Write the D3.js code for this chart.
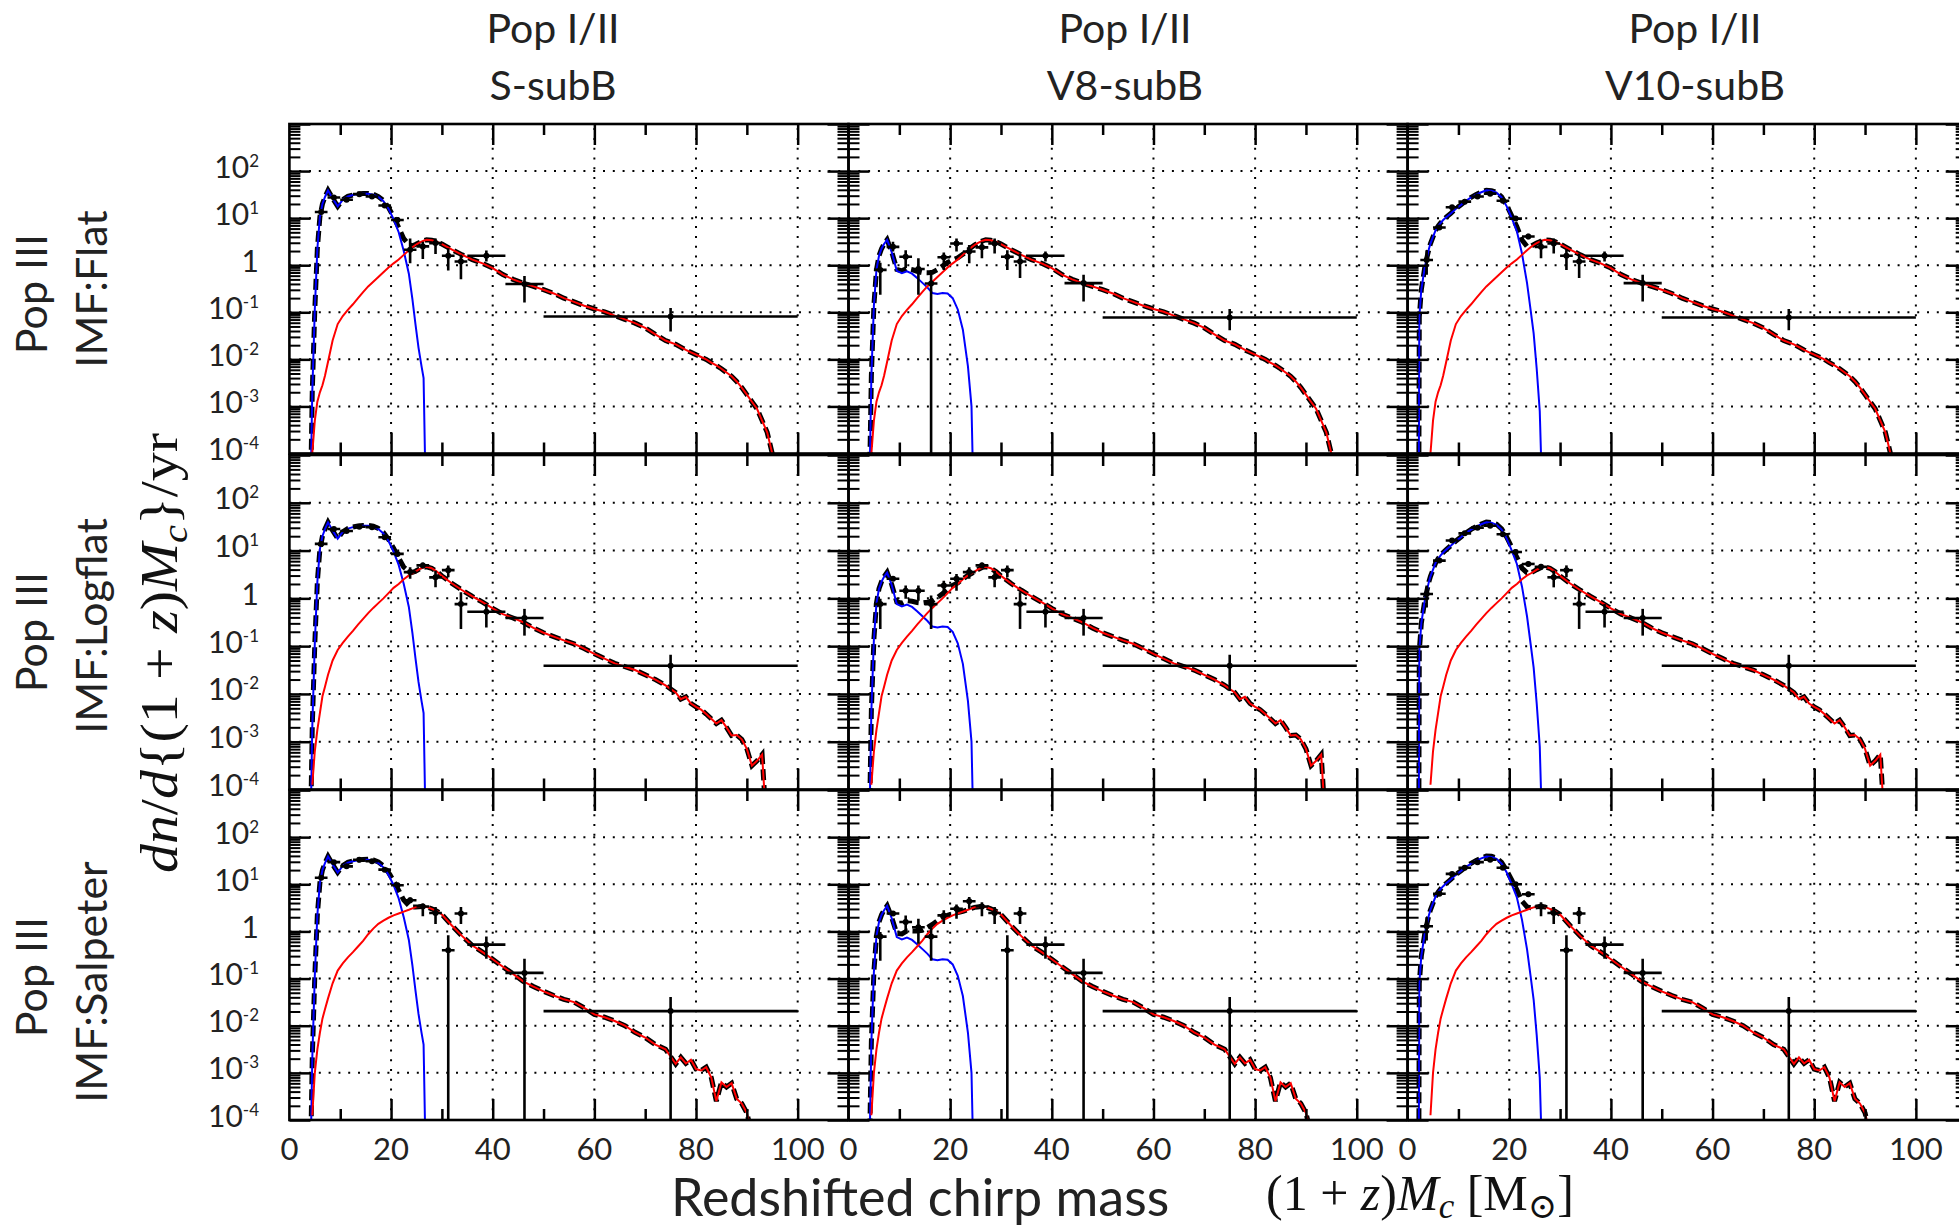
<!DOCTYPE html>
<html>
<head>
<meta charset="utf-8">
<script src="https://cdn.jsdelivr.net/npm/d3@7/dist/d3.min.js"></script>
<style>
  body{margin:0;background:#fff}
  svg{display:block}
</style>
</head>
<body>
<script>
// redshifted chirp mass grid shared by all model curves
const mc = [2.2,2.3,2.7,3.4,4.2,4.5,5,5.5,6,6.5,7,7.6,8.5,9.5,10.5,11.5,12.5,13.5,14.5,15.5,
  16.5,17.5,18.5,19.5,20.5,21.5,22.5,23.5,24.2,24.8,25.4,26,26.4,27,28,29,30,32,34,36,38,
  40,42,44,46,48,50,52,54,56,58,60,62,64,66,68,70,72,74,76,77,78,79,80,81,82,83,84,85,86,
  87,88,89,90,91,92,93,94,95]

// log10 rates, Pop I/II models (one per column)
const blueS = [null,null,null,null,-4.6, -2.7,-0.94,0.35,1.03,1.3, 1.45,1.59,1.42,1.25,1.39,
  1.46,1.49,1.51,1.52,1.52, 1.5,1.45,1.36,1.2,0.98, 0.7,0.3,-0.18,-0.72,-1.25, -1.75,-2.15,-2.4,-6]
const blueV8 = [null,null,null,null,-4.2, -2.35,-0.85,-0.1,0.2,0.35, 0.45,0.54,0.28,-0.12,-0.17,
  -0.13,-0.18,-0.27,-0.37,-0.47, -0.59,-0.61,-0.59,-0.6,-0.7, -0.94,-1.37,-2.15,-3.0,-6]
const blueV10 = [-5,-1.1,-0.52,-0.03,0.35, 0.46,0.6,0.74,0.83,0.9, 0.96,1.02,1.1,1.2,1.28,
  1.37,1.44,1.5,1.55,1.59, 1.58,1.54,1.44,1.25,1.0, 0.72,0.25,-0.38,-0.95,-1.45, -2.2,-3.1,-4.6]

// log10 rates, Pop III models (one per row)
const redFlat = [null,null,null,null,null, -4.0,-3.3,-2.9,-2.7,-2.55, -2.35,-2.05,-1.6,-1.25,-1.08,
  -0.95,-0.83,-0.7,-0.57,-0.45, -0.35,-0.25,-0.15,-0.05,0.04, 0.12,0.22,0.32,0.38,0.43,
  0.47,0.5,0.52,0.54,0.53, 0.5,0.45,0.33,0.22,0.12, 0.04,-0.06,-0.2,-0.3,-0.38,
  -0.45,-0.52,-0.6,-0.7,-0.78, -0.86,-0.93,-0.99,-1.07,-1.15, -1.23,-1.33,-1.47,-1.6,-1.68,
  -1.74,-1.8,-1.85,-1.9,-1.95, -2.0,-2.07,-2.13,-2.2,-2.28, -2.36,-2.47,-2.6,-2.75,-2.9,
  -3.05,-3.3,-3.55,-4.0]
const redLogflat = [null,null,null,null,null, -3.9,-3.2,-2.75,-2.4,-2.05, -1.85,-1.6,-1.3,-1.08,-0.93,
  -0.8,-0.68,-0.55,-0.43,-0.31, -0.2,-0.1,0.0,0.11,0.22, 0.3,0.4,0.48,0.52,0.56,
  0.6,0.63,0.65,0.66,0.63, 0.56,0.47,0.31,0.17,0.04, -0.08,-0.21,-0.33,-0.41,-0.5,
  -0.62,-0.72,-0.8,-0.88,-0.95, -1.05,-1.16,-1.26,-1.36,-1.43, -1.5,-1.6,-1.7,-1.82,-1.97,
  -2.11,-2.06,-2.2,-2.27,-2.33, -2.42,-2.52,-2.62,-2.55,-2.7, -2.87,-2.86,-2.95,-3.15,-3.5,
  -3.4,-3.27,-5,null]
const redSalpeter = [null,null,null,null,null, -3.9,-3.0,-2.5,-2.15,-1.85, -1.65,-1.42,-1.1,-0.83,-0.68,
  -0.55,-0.44,-0.32,-0.2,-0.06, 0.06,0.16,0.23,0.29,0.34, 0.38,0.42,0.46,0.49,0.51,
  0.52,0.53,0.53,0.52,0.48, 0.43,0.36,0.12,-0.1,-0.3, -0.44,-0.59,-0.75,-0.9,-1.06,
  -1.17,-1.27,-1.36,-1.44,-1.5, -1.62,-1.76,-1.82,-1.9,-2.0, -2.14,-2.25,-2.4,-2.5,-2.81,
  -2.67,-2.8,-2.72,-2.92,-2.95, -2.88,-3.1,-3.6,-3.2,-3.3, -3.22,-3.55,-3.65,-3.85,-4.3,
  null,null,null,null]

// histogram bins of the mock detections
const binX = [3.75,6.25,8.75,11.25,13.75,16.25,18.75,21.25,23.75,26.25,28.75,31.25,33.75,38.75,46.25,75]
const binHalf = [1.25,1.25,1.25,1.25,1.25,1.25,1.25,1.25,1.25,1.25,1.25,1.25,1.25,3.75,3.75,25]

// [log10 value, log10 lower, log10 upper]; lower null = down to zero
const ptsFlatS = [null,[1.13,1.08,1.18],[1.44,1.4,1.48],[1.39,1.35,1.43],[1.51,1.48,1.54],[1.46,1.43,1.49],
  [1.27,1.23,1.31],[0.96,0.91,1.01],[0.33,0.04,0.57],[0.4,0.13,0.5],[0.47,0.24,0.57],[0.2,-0.11,0.36],
  [0.08,-0.3,0.22],[0.2,0.08,0.31],[-0.4,-0.79,-0.23],[-1.09,-1.41,-0.91]]
const ptsFlatV8 = [null,[-0.1,-0.63,0.05],[0.39,0.29,0.5],[0.18,-0.06,0.32],[-0.08,-0.63,0.15],[-0.39,null,-0.1],
  [0.17,-0.1,0.27],[0.46,0.29,0.57],[0.29,0.04,0.43],[0.38,0.15,0.5],[0.46,0.25,0.57],[0.18,-0.1,0.32],
  [0.08,-0.27,0.25],[0.2,0.08,0.29],[-0.38,-0.77,-0.2],[-1.11,-1.38,-0.93]]
const ptsFlatV10 = [[0.11,-0.2,0.32],[0.8,0.76,0.84],[1.23,1.2,1.26],[1.35,1.32,1.38],[1.46,1.43,1.49],[1.52,1.49,1.55],
  [1.37,1.34,1.4],[0.99,0.95,1.03],[0.61,0.55,0.67],[0.39,0.15,0.54],[0.46,0.25,0.57],[0.2,-0.1,0.34],
  [0.08,-0.27,0.25],[0.2,0.08,0.29],[-0.38,-0.77,-0.2],[-1.11,-1.38,-0.93]]
const ptsLogflatS = [null,[1.14,1.09,1.19],[1.45,1.41,1.49],[1.41,1.37,1.45],[1.5,1.47,1.53],[1.49,1.46,1.52],
  [1.28,1.24,1.32],[0.93,0.88,0.98],[0.55,0.41,0.65],[0.69,0.63,0.75],[0.44,0.23,0.58],[0.59,0.44,0.69],
  [-0.12,-0.64,0.13],[-0.28,-0.61,-0.12],[-0.41,-0.78,-0.22],[-1.41,-1.94,-1.18]]
const ptsLogflatV8 = [null,[-0.12,-0.64,-0.01],[0.41,0.37,0.45],[0.16,-0.01,0.27],[0.16,-0.05,0.27],[-0.12,-0.64,0.06],
  [0.27,0.06,0.37],[0.41,0.16,0.51],[0.55,0.41,0.65],[0.69,0.63,0.75],[0.44,0.23,0.58],[0.59,0.44,0.69],
  [-0.12,-0.64,0.13],[-0.28,-0.61,-0.12],[-0.41,-0.78,-0.22],[-1.41,-1.94,-1.18]]
const ptsLogflatV10 = [[0.09,-0.19,0.27],[0.79,0.75,0.83],[1.21,1.18,1.24],[1.36,1.33,1.39],[1.48,1.45,1.51],[1.52,1.49,1.55],
  [1.34,1.31,1.37],[0.97,0.93,1.01],[0.72,0.67,0.77],[0.66,0.6,0.72],[0.44,0.23,0.58],[0.59,0.44,0.69],
  [-0.12,-0.64,0.13],[-0.28,-0.61,-0.12],[-0.41,-0.78,-0.22],[-1.41,-1.94,-1.18]]
const ptsSalpeterS = [null,[1.14,1.09,1.19],[1.47,1.43,1.51],[1.38,1.34,1.42],[1.52,1.49,1.55],[1.49,1.46,1.52],
  [1.31,1.27,1.35],[0.98,0.93,1.03],[0.66,0.6,0.72],[0.53,0.32,0.59],[0.39,0.16,0.52],[-0.4,null,-0.08],
  [0.38,0.16,0.52],[-0.28,-0.58,-0.11],[-0.88,null,-0.58],[-1.69,null,-1.39]]
const ptsSalpeterV8 = [null,[-0.11,-0.62,-0.01],[0.38,0.34,0.42],[0.2,-0.01,0.34],[0.09,-0.26,0.27],[-0.11,-0.62,0.09],
  [0.34,0.16,0.45],[0.48,0.27,0.57],[0.64,0.48,0.73],[0.53,0.32,0.62],[0.39,0.16,0.52],[-0.4,null,-0.08],
  [0.38,0.16,0.52],[-0.28,-0.58,-0.11],[-0.88,null,-0.58],[-1.69,null,-1.39]]
const ptsSalpeterV10 = [[0.11,-0.19,0.3],[0.8,0.76,0.84],[1.22,1.19,1.25],[1.35,1.32,1.38],[1.47,1.44,1.5],[1.52,1.49,1.55],
  [1.35,1.32,1.38],[1.0,0.96,1.04],[0.79,0.74,0.84],[0.53,0.32,0.62],[0.39,0.16,0.52],[-0.4,null,-0.08],
  [0.38,0.16,0.52],[-0.28,-0.58,-0.11],[-0.88,null,-0.58],[-1.69,null,-1.39]]

const colTitles = [["Pop I/II","S-subB"],["Pop I/II","V8-subB"],["Pop I/II","V10-subB"]]
const rowTitles = [["Pop III","IMF:Flat"],["Pop III","IMF:Logflat"],["Pop III","IMF:Salpeter"]]
const xTickVals = [0,20,40,60,80,100]
const yTickVals = [1e2,1e1,1,1e-1,1e-2,1e-3,1e-4]
const yTickText = [["10","2"],["10","1"],["1",""],["10","-1"],["10","-2"],["10","-3"],["10","-4"]]

const W=1959, H=1231
const colLeft=[289.4,848.5,1407.6], panelW=559.1
const rowTop=[124,455,790], rowBot=[453.5,789.5,1120]
const colTitleX=[553,1125,1695], rowTitleY=[[294,289],[632,626],[977,982]]
const sans="Lato, 'Open Sans', sans-serif", serif="'Liberation Serif','DejaVu Serif',serif"

const blues=[blueS,blueV8,blueV10]
const reds=[redFlat,redLogflat,redSalpeter]
const pts=[[ptsFlatS,ptsFlatV8,ptsFlatV10],[ptsLogflatS,ptsLogflatV8,ptsLogflatV10],[ptsSalpeterS,ptsSalpeterV8,ptsSalpeterV10]]

const p10 = v => (v==null ? null : Math.pow(10,v))
const decades=[1e-4,1e-3,1e-2,1e-1,1,1e1,1e2,1e3]
const minorY=[]
for(let e=-4;e<3;e++){ for(let k=2;k<10;k++) minorY.push(k*Math.pow(10,e)) }

const svg = d3.select("body").append("svg").attr("width",W).attr("height",H)
svg.append("rect").attr("width",W).attr("height",H).attr("fill","#fff")

function drawPanel(r,c){
  const x0=colLeft[c], x1=x0+panelW, yT=rowTop[r], yB=rowBot[r]
  const x = d3.scaleLinear().domain([0,110]).range([x0,x1])
  const y = d3.scaleLog().domain([1e-4,1e3]).range([yB,yT])
  const id=`clip${r}${c}`
  svg.append("clipPath").attr("id",id).append("rect")
    .attr("x",x0).attr("y",yT).attr("width",panelW).attr("height",yB-yT)
  const g = svg.append("g")
  const inner = g.append("g").attr("clip-path",`url(#${id})`)

  // dotted grid
  inner.selectAll(".gx").data([20,40,60,80,100]).join("line").attr("class","gx")
    .attr("x1",d=>x(d)).attr("x2",d=>x(d)).attr("y1",yB).attr("y2",yT)
    .attr("stroke","#000").attr("stroke-width",2).attr("stroke-dasharray","2,7.8")
  inner.selectAll(".gy").data([1e-3,1e-2,1e-1,1,1e1,1e2]).join("line").attr("class","gy")
    .attr("y1",d=>y(d)).attr("y2",d=>y(d)).attr("x1",x0).attr("x2",x1)
    .attr("stroke","#000").attr("stroke-width",2).attr("stroke-dasharray","2,7.8")

  const line = d3.line().defined(d=>d.v!=null && d.v>0).x(d=>x(d.x)).y(d=>y(d.v))
  const blue = mc.map((m,i)=>({x:m, v:p10(blues[c][i] ?? null)}))
  const red = mc.map((m,i)=>({x:m, v:p10(reds[r][i] ?? null)}))
  const tot = mc.map((m,i)=>{
    const b=blue[i].v, rr=red[i].v
    return {x:m, v:(b==null && rr==null) ? null : (b||0)+(rr||0)}
  })
  inner.append("path").attr("d",line(tot)).attr("fill","none").attr("stroke","#000")
    .attr("stroke-width",5).attr("stroke-dasharray","11,5")
  inner.append("path").attr("d",line(blue)).attr("fill","none").attr("stroke","#0000ff").attr("stroke-width",2)
  inner.append("path").attr("d",line(red)).attr("fill","none").attr("stroke","#ff0000").attr("stroke-width",2)

  // binned detections with error bars
  const bars = pts[r][c].map((p,i)=>p ? {x:binX[i], h:binHalf[i], v:p10(p[0]), lo:p10(p[1]), hi:p10(p[2])} : null).filter(Boolean)
  const eb = inner.selectAll(".eb").data(bars).join("g").attr("class","eb")
  eb.append("line").attr("x1",d=>x(d.x-d.h)).attr("x2",d=>x(d.x+d.h)).attr("y1",d=>y(d.v)).attr("y2",d=>y(d.v))
    .attr("stroke","#000").attr("stroke-width",2.6)
  eb.append("line").attr("x1",d=>x(d.x)).attr("x2",d=>x(d.x))
    .attr("y1",d=>y(d.hi)).attr("y2",d=>d.lo==null ? yB : y(d.lo))
    .attr("stroke","#000").attr("stroke-width",2.6)
  eb.append("circle").attr("cx",d=>x(d.x)).attr("cy",d=>y(d.v)).attr("r",3).attr("fill","#000")

  // inward ticks on all four sides
  const tk = (gen, tx, ty, size, w) => {
    const a = g.append("g").attr("transform",`translate(${tx},${ty})`).call(gen.tickSize(-size).tickFormat(""))
    a.select(".domain").remove()
    a.selectAll("line").attr("stroke","#000").attr("stroke-width",w)
  }
  tk(d3.axisLeft(y).tickValues(decades), x0, 0, 21, 2.5)
  tk(d3.axisLeft(y).tickValues(minorY), x0, 0, 11, 2)
  tk(d3.axisRight(y).tickValues(decades), x1, 0, 21, 2.5)
  tk(d3.axisRight(y).tickValues(minorY), x1, 0, 11, 2)
  tk(d3.axisBottom(x).tickValues([20,40,60,80,100]), 0, yB, 21, 2.5)
  tk(d3.axisBottom(x).tickValues([10,30,50,70,90]), 0, yB, 11, 2.5)
  tk(d3.axisTop(x).tickValues([20,40,60,80,100]), 0, yT, 21, 2.5)
  tk(d3.axisTop(x).tickValues([10,30,50,70,90]), 0, yT, 11, 2.5)

  g.append("rect").attr("x",x0).attr("y",yT).attr("width",panelW).attr("height",yB-yT)
    .attr("fill","none").attr("stroke","#000").attr("stroke-width",2.6)

  if(c===0){
    const lab = g.selectAll(".ylab").data(yTickVals).join("text").attr("class","ylab")
      .attr("x",259).attr("y",d=>y(d)+6.5).attr("text-anchor","end")
      .attr("font-family",sans).attr("font-size",30).attr("fill","#222")
    lab.append("tspan").text((d,i)=>yTickText[i][0])
    lab.append("tspan").attr("dy",-11).attr("font-size",17).text((d,i)=>yTickText[i][1])
  }
  if(r===2){
    g.selectAll(".xlab").data(xTickVals).join("text").attr("class","xlab")
      .attr("x",d=>x(d)).attr("y",1160).attr("text-anchor","middle")
      .attr("font-family",sans).attr("font-size",31).attr("fill","#222").text(d=>d)
  }
}

for(let r=0;r<3;r++) for(let c=0;c<3;c++) drawPanel(r,c)

// column and row headings
colTitles.forEach((t,c)=>{
  svg.append("text").attr("x",colTitleX[c]).attr("y",43).attr("text-anchor","middle")
    .attr("font-family",sans).attr("font-size",41).attr("fill","#222").text(t[0])
  svg.append("text").attr("x",colTitleX[c]).attr("y",100).attr("text-anchor","middle")
    .attr("font-family",sans).attr("font-size",41).attr("fill","#222").text(t[1])
})
rowTitles.forEach((t,r)=>{
  svg.append("text").attr("transform",`translate(47,${rowTitleY[r][0]}) rotate(-90)`).attr("text-anchor","middle")
    .attr("font-family",sans).attr("font-size",43).attr("fill","#222").text(t[0])
  svg.append("text").attr("transform",`translate(107,${rowTitleY[r][1]}) rotate(-90)`).attr("text-anchor","middle")
    .attr("font-family",sans).attr("font-size",43).attr("fill","#222").text(t[1])
})

function addMath(text, parts, size, drop){
  let low=false
  parts.forEach(p=>{
    const ts=text.append("tspan").text(p.t)
    if(p.it) ts.attr("font-style","italic")
    if(p.sub){ ts.attr("font-size",size*0.7).attr("dy",size*drop); low=true }
    else if(low){ ts.attr("dy",-size*drop); low=false }
  })
}

const yTitle = svg.append("text").attr("transform","translate(177,653) rotate(-90)").attr("text-anchor","middle")
  .attr("font-family",serif).attr("font-size",52).attr("fill","#111")
  .attr("textLength",440).attr("lengthAdjust","spacingAndGlyphs")
addMath(yTitle,[{t:"dn",it:1},{t:"/"},{t:"d",it:1},{t:"{(1 + "},{t:"z",it:1},{t:")"},{t:"M",it:1},{t:"c",it:1,sub:1},{t:"}/yr"}],52,0.2)

svg.append("text").attr("x",671).attr("y",1216).attr("font-family",sans).attr("font-size",52)
  .attr("fill","#222").text("Redshifted chirp mass")
const xMath = svg.append("text").attr("x",1266).attr("y",1210).attr("font-family",serif).attr("font-size",50).attr("fill","#111")
addMath(xMath,[{t:"(1 + "},{t:"z",it:1},{t:")"},{t:"M",it:1},{t:"c",it:1,sub:1},{t:"  [M"},{t:"⊙",sub:1},{t:"]"}],50,0.16)
</script>
</body>
</html>
